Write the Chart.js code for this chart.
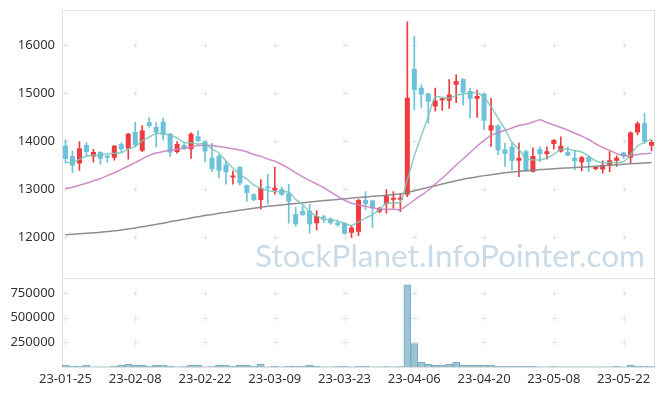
<!DOCTYPE html>
<html>
<head>
<meta charset="utf-8">
<script src="https://cdn.jsdelivr.net/npm/chart.js@4.4.1/dist/chart.umd.min.js"></script>
<style>
  body { margin: 0; background: #fff; }
  canvas { display: block; }
</style>
</head>
<body>
<canvas id="chart" width="665" height="396"></canvas>
<script>
'use strict'

const fechas = ['23-01-25','23-01-26','23-01-27','23-01-30','23-01-31','23-02-01','23-02-02','23-02-03','23-02-06','23-02-07',
  '23-02-08','23-02-09','23-02-10','23-02-13','23-02-14','23-02-15','23-02-16','23-02-17','23-02-20','23-02-21',
  '23-02-22','23-02-23','23-02-24','23-02-27','23-02-28','23-03-02','23-03-03','23-03-06','23-03-07','23-03-08',
  '23-03-09','23-03-10','23-03-13','23-03-14','23-03-15','23-03-16','23-03-17','23-03-20','23-03-21','23-03-22',
  '23-03-23','23-03-24','23-03-27','23-03-28','23-03-29','23-03-30','23-03-31','23-04-03','23-04-04','23-04-05',
  '23-04-06','23-04-07','23-04-10','23-04-11','23-04-12','23-04-13','23-04-14','23-04-17','23-04-18','23-04-19',
  '23-04-20','23-04-21','23-04-24','23-04-25','23-04-26','23-04-27','23-04-28','23-05-02','23-05-03','23-05-04',
  '23-05-08','23-05-09','23-05-10','23-05-11','23-05-12','23-05-15','23-05-16','23-05-17','23-05-18','23-05-19',
  '23-05-22','23-05-23','23-05-24','23-05-25','23-05-26'];

const aperturas = [13900,13690,13530,13920,13680,13770,13690,13650,13940,13840,
  14190,13800,14390,14290,14400,14150,13770,13920,13830,14100,
  13990,13650,13690,13510,13240,13460,13080,12890,12770,13030,
  12970,13000,12910,12480,12550,12550,12290,12430,12370,12300,
  12290,12090,12110,12770,12760,12530,12690,12780,12780,12880,
  15500,15110,14990,14720,14850,14840,15170,15290,15040,14880,
  14980,14220,14330,13830,13880,13590,13790,13360,13830,13730,
  13940,13780,13770,13650,13560,13670,13420,13410,13480,13590,
  13760,13650,14180,14370,13900];

const maximos = [14020,13790,13990,13970,13830,13780,13700,13910,13970,14160,
  14390,14320,14490,14390,14480,14160,13990,13960,14170,14220,
  14010,13950,13720,13590,13380,13470,13090,12900,13200,13310,
  13460,13040,13100,12620,12640,12690,12550,12460,12400,12360,
  12300,12240,12790,12950,12770,12620,12990,12950,12910,16480,
  16180,15170,15000,15100,14890,15280,15380,15300,15100,15060,
  15000,14890,14340,13960,13960,13960,13810,13860,13880,13880,
  14030,14090,13880,13810,13680,13690,13450,13590,13780,13690,
  13770,14190,14400,14580,14020];

const minimos = [13540,13340,13390,13690,13560,13520,13560,13600,13780,13620,
  13880,13780,14290,13880,14020,13680,13750,13820,13640,13980,
  13570,13360,13230,13100,13100,13080,12750,12760,12580,12690,
  12890,12870,12290,12230,12450,12080,12150,12300,12270,12220,
  12060,11990,12030,12570,12200,12510,12500,12600,12530,12840,
  14650,14700,14370,14620,14640,14680,14800,14750,14480,14490,
  14230,13890,13710,13470,13400,13260,13370,13350,13570,13620,
  13830,13770,13690,13400,13380,13360,13400,13330,13360,13470,
  13640,13550,14130,13950,13800];

const cierres = [13630,13490,13850,13770,13770,13630,13650,13900,13830,14150,
  13910,14220,14310,14180,14130,13760,13940,13840,14150,14000,
  13780,13420,13380,13350,13260,13120,12920,12770,13020,13010,
  13030,12880,12740,12270,12460,12270,12440,12390,12290,12250,
  12070,12200,12770,12690,12600,12600,12860,12800,12810,14900,
  15060,14970,14820,14840,14860,14970,15250,15010,14880,14940,
  14420,14330,13810,13730,13590,13650,13380,13690,13730,13790,
  14020,13900,13700,13580,13660,13570,13440,13500,13600,13650,
  13680,14180,14370,13990,13980];

const volumenes = [20000,10000,10000,20000,2000,1000,2000,10000,20000,30000,
  20000,17000,10000,20000,20000,10000,2000,3000,20000,20000,
  2000,3000,20000,20000,8000,20000,20000,10000,30000,2000,
  8000,2000,10000,10000,10000,20000,8000,2000,2000,3000,
  10000,2000,10000,10000,2000,1000,3000,2000,3000,833000,
  237000,51000,28000,18000,18000,28000,51000,18000,18000,18000,
  18000,18000,8000,8000,8000,8000,8000,8000,2000,2000,
  3000,2000,1000,2000,2000,1000,1000,2000,2000,8000,
  2000,20000,10000,10000,3000];

const ma5 = [13560,13550,13620,13690,13702,13702,13734,13744,13756,13832,
  13888,14002,14084,14154,14150,14120,14064,13970,13964,13938,
  13942,13838,13746,13586,13438,13306,13206,13084,13018,12968,
  12950,12942,12936,12786,12676,12524,12436,12366,12370,12328,
  12288,12240,12316,12396,12466,12572,12704,12710,12734,13194,
  13686,14108,14512,14918,14910,14892,14948,14986,14994,15010,
  14900,14716,14476,14246,13976,13822,13632,13608,13608,13648,
  13722,13826,13828,13798,13772,13682,13590,13550,13554,13552,
  13574,13722,13896,13974,14040];

const ma20 = [13010,13040,13080,13120,13170,13220,13280,13340,13410,13480,
  13550,13630,13700,13750,13780,13810,13830,13850,13880,13905,
  13912,13908,13885,13864,13839,13813,13777,13720,13680,13623,
  13579,13512,13433,13338,13255,13180,13105,13033,12940,12852,
  12767,12706,12676,12643,12610,12584,12581,12582,12572,12666,
  12768,12872,12976,13105,13225,13360,13500,13631,13761,13895,
  14013,14119,14171,14223,14273,14325,14351,14396,14442,14386,
  14334,14281,14225,14162,14102,14032,13941,13866,13802,13737,
  13700,13693,13721,13734,13753];

const ma120 = [12050,12060,12070,12080,12090,12100,12115,12130,12150,12170,
  12190,12215,12240,12265,12290,12320,12345,12370,12400,12425,
  12450,12470,12495,12515,12540,12560,12580,12600,12620,12640,
  12655,12670,12685,12700,12715,12730,12745,12760,12775,12785,
  12800,12810,12825,12835,12850,12860,12870,12885,12900,12930,
  12965,13000,13035,13070,13105,13140,13175,13205,13230,13255,
  13280,13300,13320,13340,13355,13370,13382,13394,13405,13415,
  13425,13433,13441,13449,13457,13465,13475,13485,13495,13505,
  13515,13525,13535,13545,13555];

const ticksPrecio = [12000, 13000, 14000, 15000, 16000];
const ticksVolumen = [250000, 500000, 750000];

const ROJO = '#ef3b3f';
const AZUL = '#6cc2d8';
const MARCA = 'StockPlanet.InfoPointer.com';

// cruces de la rejilla, marco y marca de agua
const decoracion = {
  id: 'decoracion',
  beforeDatasetsDraw(chart) {
    const { ctx, chartArea, scales } = chart;
    ctx.save();
    // ancho de la marca de agua ~390px
    ctx.font = '33px Lato';
    const tam = Math.min(34, 33 * 390 / ctx.measureText(MARCA).width);
    ctx.font = tam.toFixed(1) + 'px Lato';
    ctx.fillStyle = '#cadbe7';
    ctx.textAlign = 'right';
    ctx.textBaseline = 'alphabetic';
    ctx.fillText(MARCA, 645, 267);

    ctx.strokeStyle = '#e3e3e3';
    ctx.lineWidth = 1;
    const cruz = (x, y) => {
      ctx.beginPath();
      ctx.moveTo(Math.round(x) - 2.5, Math.round(y) + 0.5);
      ctx.lineTo(Math.round(x) + 3.5, Math.round(y) + 0.5);
      ctx.moveTo(Math.round(x) + 0.5, Math.round(y) - 2.5);
      ctx.lineTo(Math.round(x) + 0.5, Math.round(y) + 3.5);
      ctx.stroke();
    };
    for (let i = 0; i < fechas.length; i += 10) {
      const x = scales.x.getPixelForValue(i);
      ticksPrecio.forEach(v => cruz(x, scales.y.getPixelForValue(v)));
      ticksVolumen.forEach(v => cruz(x, scales.yv.getPixelForValue(v)));
    }

    ctx.strokeStyle = '#e0e0e0';
    ctx.strokeRect(chartArea.left + 0.5, chartArea.top + 0.5, chartArea.right - chartArea.left - 1, chartArea.bottom - chartArea.top);
    const ySep = Math.round(scales.y.bottom) + 0.5;
    ctx.beginPath();
    ctx.moveTo(chartArea.left, ySep);
    ctx.lineTo(chartArea.right, ySep);
    ctx.stroke();
    ctx.restore();
  }
};

function ajustarEje(s) {
  s.width = 62;
  s.paddingTop = 0;
  s.paddingBottom = 0;
}

function dibujar() {
  const ctx = document.getElementById('chart').getContext('2d');
  const colores = aperturas.map((o, i) => cierres[i] >= o ? ROJO : AZUL);
  const fuente = { family: '"Noto Sans", sans-serif', size: 13 };

  new Chart(ctx, {
    data: {
      labels: fechas,
      datasets: [
        { type: 'line', label: 'MA5', data: ma5, yAxisID: 'y', borderColor: 'rgba(120,196,182,0.85)', borderWidth: 1.5, pointRadius: 0, tension: 0.3, order: 0 },
        { type: 'line', label: 'MA20', data: ma20, yAxisID: 'y', borderColor: 'rgba(200,130,196,0.9)', borderWidth: 1.5, pointRadius: 0, tension: 0.2, order: 0 },
        { type: 'line', label: 'MA120', data: ma120, yAxisID: 'y', borderColor: 'rgba(130,130,130,0.9)', borderWidth: 1.5, pointRadius: 0, tension: 0.2, order: 0 },
        { type: 'bar', label: 'cuerpo', data: aperturas.map((o, i) => [o, cierres[i]]), yAxisID: 'y', backgroundColor: colores,
          barPercentage: 0.72, categoryPercentage: 1, grouped: false, minBarLength: 2, order: 1 },
        { type: 'bar', label: 'mecha', data: minimos.map((l, i) => [l, maximos[i]]), yAxisID: 'y', backgroundColor: colores,
          barThickness: 1, grouped: false, order: 2 },
        { type: 'bar', label: 'volumen', data: volumenes, yAxisID: 'yv', backgroundColor: '#9cc5d3', borderColor: '#78aabd',
          borderWidth: 1, barPercentage: 1, categoryPercentage: 1, grouped: false, order: 3 }
      ]
    },
    options: {
      responsive: false,
      animation: false,
      layout: { padding: { top: 10, right: 10, left: 0, bottom: 0 } },
      plugins: { legend: { display: false }, tooltip: { enabled: false } },
      scales: {
        x: {
          offset: true,
          grid: { display: false, drawTicks: false },
          border: { display: false },
          ticks: {
            autoSkip: false, maxRotation: 0, padding: 4, color: '#333', font: fuente,
            callback: (v, i) => i % 10 === 0 ? fechas[i] : ''
          },
          afterFit: s => { s.height = 29; }
        },
        y: {
          position: 'left', stack: 'panel', stackWeight: 3, weight: 2,
          min: 11154, max: 16728,
          grid: { display: false, drawTicks: false },
          border: { display: false },
          ticks: { padding: 7, color: '#333', font: fuente, callback: v => String(v) },
          afterBuildTicks: s => { s.ticks = ticksPrecio.map(v => ({ value: v })); },
          afterFit: ajustarEje
        },
        yv: {
          position: 'left', stack: 'panel', stackWeight: 1, weight: 1,
          min: 0, max: 906000,
          grid: { display: false, drawTicks: false },
          border: { display: false },
          ticks: { padding: 7, color: '#333', font: fuente, callback: v => String(v) },
          afterBuildTicks: s => { s.ticks = ticksVolumen.map(v => ({ value: v })); },
          afterFit: ajustarEje
        }
      }
    },
    plugins: [decoracion]
  });
}

dibujar();
</script>
</body>
</html>
